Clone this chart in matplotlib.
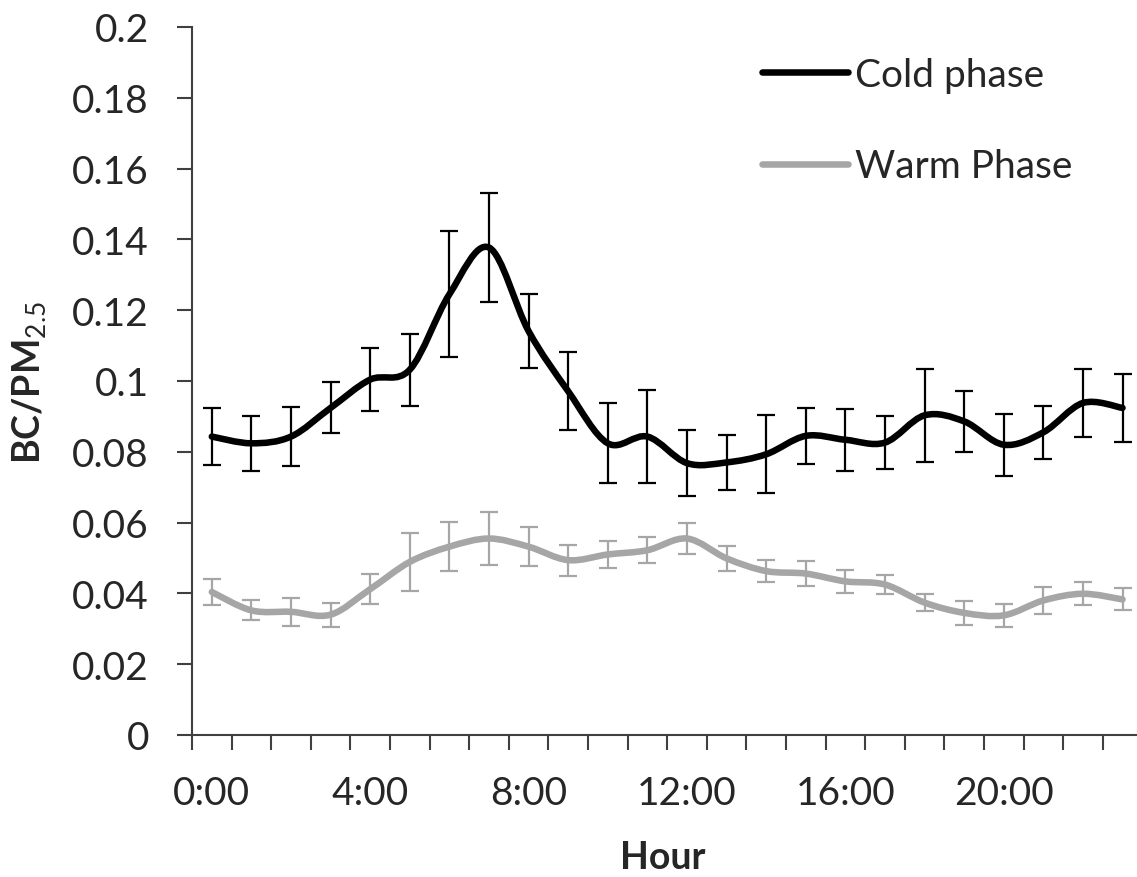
import matplotlib
matplotlib.use("Agg")
import matplotlib.pyplot as plt
from matplotlib.path import Path
from matplotlib.patches import PathPatch
import numpy as np

hours = list(range(24))
hour_labels = ['0:00', '4:00', '8:00', '12:00', '16:00', '20:00']

cold = [0.0843, 0.0824, 0.0843, 0.0924, 0.1004, 0.1032, 0.1245, 0.1377,
        0.1141, 0.0971, 0.0824, 0.0843, 0.0768, 0.0770, 0.0793, 0.0845,
        0.0834, 0.0826, 0.0903, 0.0886, 0.0820, 0.0855, 0.0938, 0.0924]
cold_err = [0.0080, 0.0077, 0.0083, 0.0072, 0.0088, 0.0102, 0.0178, 0.0155,
            0.0105, 0.0110, 0.0113, 0.0131, 0.0094, 0.0078, 0.0110, 0.0080,
            0.0088, 0.0075, 0.0132, 0.0086, 0.0087, 0.0074, 0.0096, 0.0096]

warm = [0.0404, 0.0352, 0.0348, 0.0340, 0.0412, 0.0489, 0.0532, 0.0555,
        0.0532, 0.0494, 0.0510, 0.0522, 0.0555, 0.0499, 0.0463, 0.0456,
        0.0434, 0.0425, 0.0374, 0.0345, 0.0338, 0.0380, 0.0399, 0.0383]
warm_err = [0.0038, 0.0028, 0.0039, 0.0034, 0.0043, 0.0081, 0.0069, 0.0075,
            0.0056, 0.0044, 0.0039, 0.0036, 0.0045, 0.0035, 0.0030, 0.0036,
            0.0032, 0.0026, 0.0025, 0.0033, 0.0032, 0.0038, 0.0033, 0.0031]

plt.rcParams['font.family'] = ['Lato', 'DejaVu Sans']
plt.rcParams['mathtext.fontset'] = 'custom'
plt.rcParams['mathtext.rm'] = 'Lato'
plt.rcParams['mathtext.bf'] = 'Lato:bold'

TXT = '#262626'
AXC = '#404040'
GRAY = '#A6A6A6'


def smooth_path(x, y):
    """Excel-like smoothed line: cubic Bezier segments (Catmull-Rom)."""
    x = np.asarray(x, float)
    y = np.asarray(y, float)
    n = len(x)
    verts = [(x[0], y[0])]
    codes = [Path.MOVETO]
    for i in range(n - 1):
        i0 = max(i - 1, 0)
        i3 = min(i + 2, n - 1)
        c1 = (x[i] + (x[i + 1] - x[i0]) / 6, y[i] + (y[i + 1] - y[i0]) / 6)
        c2 = (x[i + 1] - (x[i3] - x[i]) / 6, y[i + 1] - (y[i3] - y[i]) / 6)
        verts += [c1, c2, (x[i + 1], y[i + 1])]
        codes += [Path.CURVE4] * 3
    return Path(verts, codes)


fig = plt.figure(figsize=(11.37, 8.78), dpi=100)
ax = fig.add_axes([192 / 1137, 142 / 878, 944 / 1137, 708 / 878])

for vals, errs, col, lab in [(cold, cold_err, 'black', 'Cold phase'),
                             (warm, warm_err, GRAY, 'Warm Phase')]:
    ax.add_patch(PathPatch(smooth_path(hours, vals), fill=False,
                           edgecolor=col, lw=4.7, capstyle='round'))
    ax.errorbar(hours, vals, yerr=errs, fmt='none', ecolor=col,
                elinewidth=1.6, capsize=6.5, capthick=1.6)
    ax.plot([], [], color=col, lw=4.7, solid_capstyle='round', label=lab)

ax.set_xlim(-0.5, 23.34)
ax.set_ylim(0, 0.2)
ax.set_yticks(np.arange(0, 0.201, 0.02))
ax.set_yticklabels(['0', '0.02', '0.04', '0.06', '0.08', '0.1', '0.12',
                    '0.14', '0.16', '0.18', '0.2'])
ax.set_xticks(np.arange(-0.5, 23, 1))
ax.set_xticklabels([])
ax.set_xticks(np.arange(0, 24, 4), minor=True)
ax.set_xticklabels(hour_labels, minor=True)

for s in ['top', 'right']:
    ax.spines[s].set_visible(False)
for s in ['left', 'bottom']:
    ax.spines[s].set_color(AXC)
    ax.spines[s].set_linewidth(1.5)

ax.tick_params(axis='both', which='major', direction='out', length=11,
               width=1.5, color=AXC, labelsize=28, labelcolor=TXT)
ax.tick_params(axis='y', pad=20)
ax.tick_params(axis='x', which='minor', length=0, labelsize=28,
               labelcolor=TXT, pad=29)

fig.text(30 / 1137, 1 - 383 / 878, r'$\mathbf{BC/PM}_{\mathregular{2.5}}$',
         rotation=90, ha='center', va='center', fontsize=27, color=TXT)
fig.text(663 / 1137, 1 - 858 / 878, 'Hour', ha='center', va='center',
         fontsize=27, fontweight='bold', color=TXT)

ax.legend(loc='upper left', bbox_to_anchor=(762 / 1137, 1 - 58 / 878),
          bbox_transform=fig.transFigure, frameon=False, fontsize=28,
          handlelength=2.2, handletextpad=0.2, labelspacing=1.42,
          labelcolor=TXT, borderpad=0, borderaxespad=0)

plt.savefig('out.png', dpi=100)
